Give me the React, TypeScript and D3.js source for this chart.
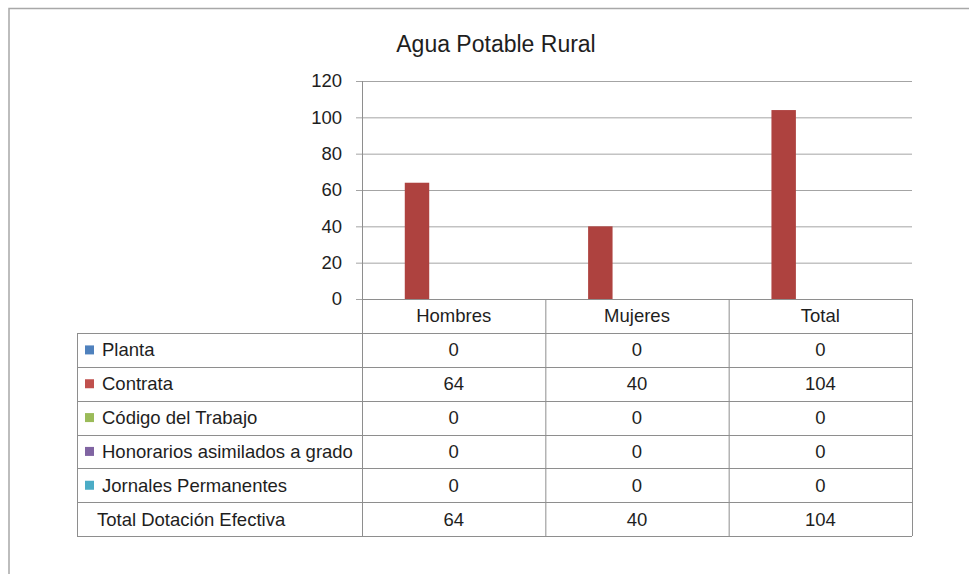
import React from 'react';
import * as d3 from 'd3';

const title = 'Agua Potable Rural';
const categories = ['Hombres', 'Mujeres', 'Total'];
const seriesNames = [
  'Planta',
  'Contrata',
  'Código del Trabajo',
  'Honorarios asimilados a grado',
  'Jornales Permanentes',
  'Total Dotación Efectiva',
];
const planta = [0, 0, 0];
const contrata = [64, 40, 104];
const codigo = [0, 0, 0];
const honorarios = [0, 0, 0];
const jornales = [0, 0, 0];
const totalDotacion = [64, 40, 104];
const seriesColors: (string | null)[] = ['#4F81BD', '#AE423F', '#9BBB59', '#8064A2', '#4BACC6', null];
const legendColors = ['#4F81BD', '#C0504D', '#9BBB59', '#8064A2', '#4BACC6', null];
const yTicks = [0, 20, 40, 60, 80, 100, 120];

const seriesValues = [planta, contrata, codigo, honorarios, jornales, totalDotacion];

const W = 969;
const H = 574;
const plotLeft = 362;
const plotRight = 912;
const plotTop = 81;
const plotBottom = 299;
const headerBottom = 333;
const tableLeft = 77;
const tableBottom = 536;
const FONT = '"Liberation Sans", Arial, sans-serif';
const textColor = '#1e1e1e';
const gridColor = '#a4a4a4';
const tableColor = '#8e8e8e';

export default function App() {
  const y = d3.scaleLinear().domain([0, 120]).range([plotBottom, plotTop]);
  const x0 = d3.scaleBand<string>().domain(categories).range([plotLeft, plotRight]).padding(0);
  const x1 = d3
    .scaleBand<string>()
    .domain(seriesNames)
    .range([0, x0.bandwidth()])
    .paddingInner(0)
    .paddingOuter(0.75);
  const rows = d3.scaleBand<string>().domain(seriesNames).range([headerBottom, tableBottom]);

  const colEdges = [plotLeft, ...categories.map((c) => (x0(c) as number) + x0.bandwidth())];

  return (
    <svg
      width={W}
      height={H}
      style={{ position: 'absolute', left: 0, top: 0, background: '#fff' }}
      fontFamily={FONT}
    >
      <rect x={0} y={0} width={W} height={H} fill="#fff" />
      {/* outer chart frame */}
      <rect x={9} y={8.5} width={W + 20} height={H + 20} fill="#fff" stroke="#a8a8a8" strokeWidth={1.5} />

      <text x={496} y={52} textAnchor="middle" fontSize={23} fill={textColor}>
        {title}
      </text>

      {/* gridlines and y ticks */}
      {yTicks.map((t) => (
        <g key={t}>
          <line x1={plotLeft - 6} x2={plotRight} y1={y(t) + 0.5} y2={y(t) + 0.5} stroke={gridColor} strokeWidth={1} />
          <text x={342} y={y(t)} dy="0.35em" textAnchor="end" fontSize={18.5} fill={textColor}>
            {t}
          </text>
        </g>
      ))}

      {/* bars */}
      {seriesNames.map((s, si) =>
        categories.map((c, ci) => {
          const v = seriesValues[si][ci];
          const col = seriesColors[si];
          if (!col || v === 0) return null;
          const bx = (x0(c) as number) + (x1(s) as number);
          return (
            <rect
              key={s + c}
              x={bx}
              y={y(v)}
              width={x1.bandwidth()}
              height={y(0) - y(v)}
              fill={col}
            />
          );
        })
      )}

      {/* y axis line */}
      <line x1={plotLeft + 0.5} x2={plotLeft + 0.5} y1={plotTop} y2={tableBottom} stroke={tableColor} />

      {/* table: header row */}
      <line x1={plotLeft} x2={plotRight} y1={plotBottom + 0.5} y2={plotBottom + 0.5} stroke={tableColor} />
      {colEdges.slice(1).map((xe, i) => (
        <line key={'v' + i} x1={xe + 0.5} x2={xe + 0.5} y1={plotBottom} y2={tableBottom} stroke={tableColor} />
      ))}
      {categories.map((c) => (
        <text
          key={'h' + c}
          x={(x0(c) as number) + x0.bandwidth() / 2}
          y={(plotBottom + headerBottom) / 2}
          dy="0.35em"
          textAnchor="middle"
          fontSize={18.5}
          fill={textColor}
        >
          {c}
        </text>
      ))}

      {/* table rows */}
      <line x1={tableLeft + 0.5} x2={tableLeft + 0.5} y1={headerBottom} y2={tableBottom} stroke={tableColor} />
      <line x1={tableLeft} x2={plotRight} y1={headerBottom + 0.5} y2={headerBottom + 0.5} stroke={tableColor} />
      {seriesNames.map((s, si) => {
        const ry = rows(s) as number;
        const rh = rows.bandwidth();
        const cy = ry + rh / 2;
        const lc = legendColors[si];
        return (
          <g key={'r' + s}>
            <line
              x1={tableLeft}
              x2={plotRight}
              y1={Math.round(ry + rh) + 0.5}
              y2={Math.round(ry + rh) + 0.5}
              stroke={tableColor}
            />
            {lc && <rect x={85} y={cy - 4.5} width={9} height={9} fill={lc} />}
            <text x={lc ? 102 : 97} y={cy} dy="0.35em" fontSize={18.5} fill={textColor}>
              {s}
            </text>
            {categories.map((c, ci) => (
              <text
                key={c}
                x={(x0(c) as number) + x0.bandwidth() / 2}
                y={cy}
                dy="0.35em"
                textAnchor="middle"
                fontSize={18.5}
                fill={textColor}
              >
                {seriesValues[si][ci]}
              </text>
            ))}
          </g>
        );
      })}
    </svg>
  );
}
